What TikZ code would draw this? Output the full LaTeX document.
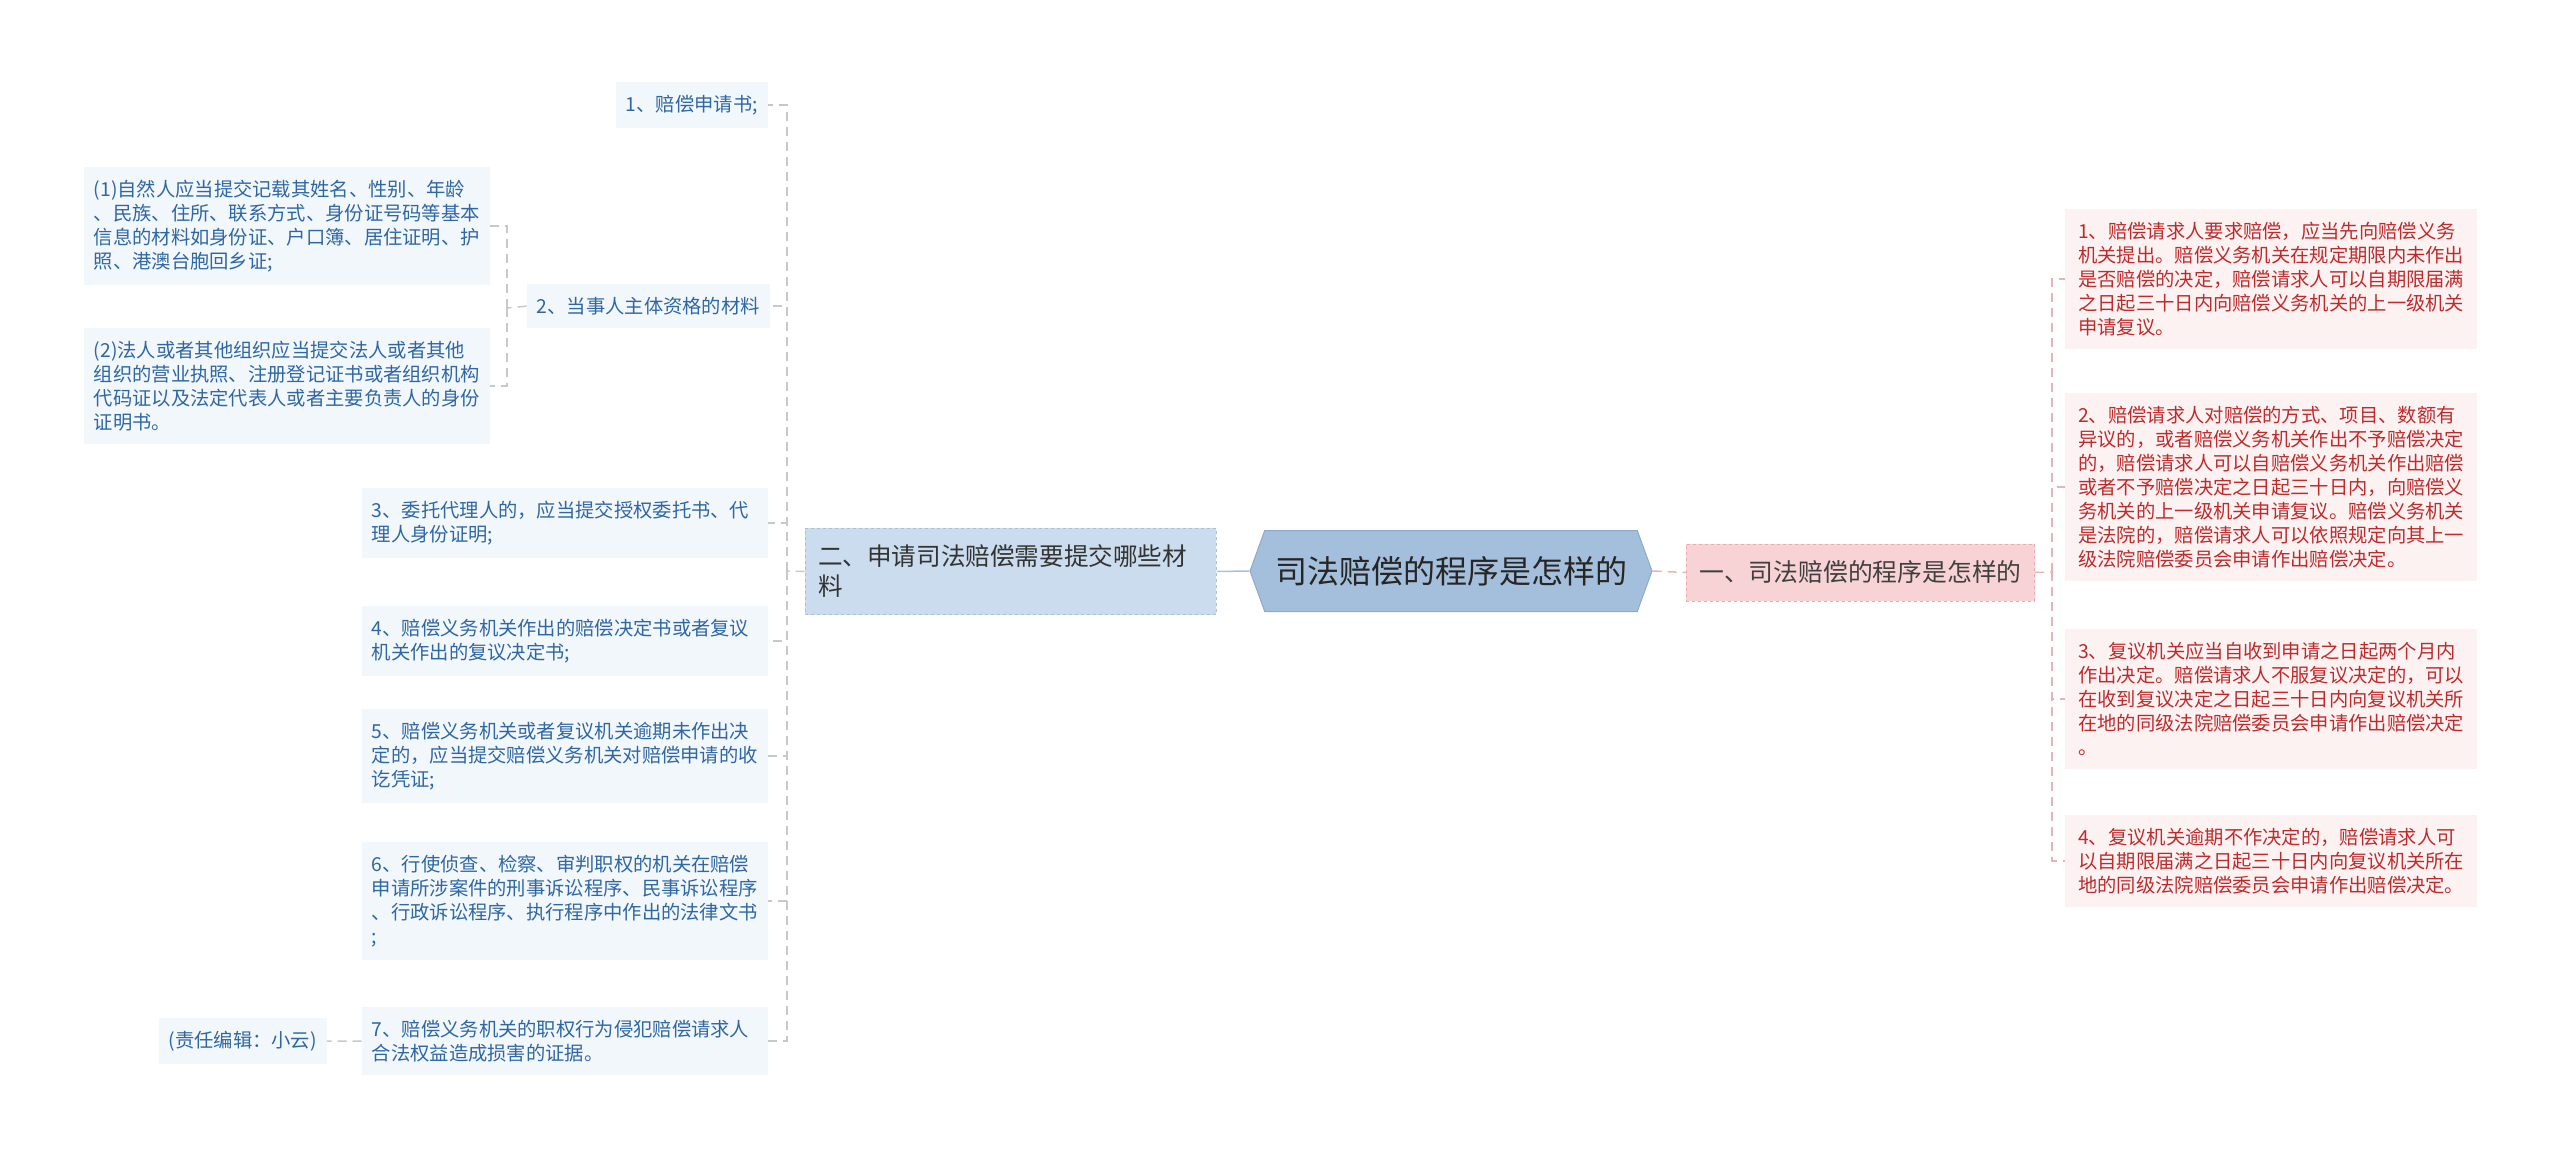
\documentclass[tikz,border=0pt]{standalone}
\usepackage{fontspec}
\setmainfont{Noto Sans CJK SC}
\usepackage{tikz}
\usetikzlibrary{shapes.symbols}
\setlength{\parindent}{0pt}

\definecolor{hexfill}{HTML}{A3BFDC}
\definecolor{hexline}{HTML}{8DAACB}
\definecolor{lbfill}{HTML}{CBDCEE}
\definecolor{lbline}{HTML}{A9C2DC}
\definecolor{rbfill}{HTML}{F7D3D5}
\definecolor{rbline}{HTML}{EEAAB0}
\definecolor{lleaffill}{HTML}{F2F7FC}
\definecolor{rleaffill}{HTML}{FDF2F2}
\definecolor{lleaftext}{HTML}{2F67A3}
\definecolor{rleaftext}{HTML}{BE2B2D}
\definecolor{greyline}{HTML}{C8C8C8}
\definecolor{pinkline}{HTML}{E6B3B6}

\tikzset{
	hexnode/.style={shape=signal, signal to=west and east, signal pointer angle=140,
		fill=hexfill, draw=hexline, line width=1pt, minimum width=402pt, minimum height=81pt,
		font=\fontsize{32pt}{38pt}\selectfont, text=black!85, inner xsep=6pt},
	lbranch/.style={fill=lbfill, draw=lbline, dashed, line width=1pt, align=left,
		text width=385pt, inner xsep=13pt, inner ysep=17pt,
		font=\fontsize{24.6pt}{30pt}\selectfont, text=black!80},
	rbranch/.style={fill=rbfill, draw=rbline, dashed, line width=1pt,
		inner xsep=13pt, inner ysep=15pt, minimum height=57pt,
		font=\fontsize{24.8pt}{30pt}\selectfont, text=black!75},
	lleaf/.style={fill=lleaffill, align=left, inner xsep=10pt, inner ysep=13pt,
		font=\fontsize{19.3pt}{24pt}\selectfont, text=lleaftext},
	rleaf/.style={fill=rleaffill, align=left, text width=386pt, inner xsep=13pt, inner ysep=13pt,
		font=\fontsize{19.3pt}{24pt}\selectfont, text=rleaftext},
	wide/.style={text width=386pt},
	greyconn/.style={draw=greyline, line width=1.5pt, dash pattern=on 9pt off 6pt},
	pinkconn/.style={draw=pinkline, line width=1.5pt, dash pattern=on 9pt off 6pt},
	blueconn/.style={draw=lbline, line width=1.5pt}
}

\begin{document}
\begin{tikzpicture}[x=1pt, y=-1pt]
	\useasboundingbox (0,0) rectangle (2560,1158);

	% Centre
	\node[hexnode] (root) at (1451,571) {司法赔偿的程序是怎样的};

	% Branches
	\node[rbranch] (rb) at (1860.5,572.5) {一、司法赔偿的程序是怎样的};
	\node[lbranch] (lb) at (1010.5,571.5) {二、申请司法赔偿需要提交哪些材\\料};

	% Junctions
	\coordinate (lj) at (787,571);
	\coordinate (cj) at (507,308);
	\coordinate (rj) at (2052,572);

	% Right leaves
	\node[rleaf, anchor=north west] (r1) at (2065,209)
		{1、赔偿请求人要求赔偿，应当先向赔偿义务\\机关提出。赔偿义务机关在规定期限内未作出\\是否赔偿的决定，赔偿请求人可以自期限届满\\之日起三十日内向赔偿义务机关的上一级机关\\申请复议。};
	\node[rleaf, anchor=north west] (r2) at (2065,393)
		{2、赔偿请求人对赔偿的方式、项目、数额有\\异议的，或者赔偿义务机关作出不予赔偿决定\\的，赔偿请求人可以自赔偿义务机关作出赔偿\\或者不予赔偿决定之日起三十日内，向赔偿义\\务机关的上一级机关申请复议。赔偿义务机关\\是法院的，赔偿请求人可以依照规定向其上一\\级法院赔偿委员会申请作出赔偿决定。};
	\node[rleaf, anchor=north west] (r3) at (2065,629)
		{3、复议机关应当自收到申请之日起两个月内\\作出决定。赔偿请求人不服复议决定的，可以\\在收到复议决定之日起三十日内向复议机关所\\在地的同级法院赔偿委员会申请作出赔偿决定\\。};
	\node[rleaf, anchor=north west] (r4) at (2065,815)
		{4、复议机关逾期不作决定的，赔偿请求人可\\以自期限届满之日起三十日内向复议机关所在\\地的同级法院赔偿委员会申请作出赔偿决定。};

	% Left leaves
	\node[lleaf, anchor=north east] (l1) at (768,82) {1、赔偿申请书;};
	\node[lleaf, anchor=north east] (l2) at (770,284) {2、当事人主体资格的材料};
	\node[lleaf, wide, anchor=north east] (l3) at (768,488)
		{3、委托代理人的，应当提交授权委托书、代\\理人身份证明;};
	\node[lleaf, wide, anchor=north east] (l4) at (768,606)
		{4、赔偿义务机关作出的赔偿决定书或者复议\\机关作出的复议决定书;};
	\node[lleaf, wide, anchor=north east] (l5) at (768,709)
		{5、赔偿义务机关或者复议机关逾期未作出决\\定的，应当提交赔偿义务机关对赔偿申请的收\\讫凭证;};
	\node[lleaf, wide, anchor=north east] (l6) at (768,842)
		{6、行使侦查、检察、审判职权的机关在赔偿\\申请所涉案件的刑事诉讼程序、民事诉讼程序\\、行政诉讼程序、执行程序中作出的法律文书\\;};
	\node[lleaf, wide, anchor=north east] (l7) at (768,1007)
		{7、赔偿义务机关的职权行为侵犯赔偿请求人\\合法权益造成损害的证据。};

	% Sub-items of 2
	\node[lleaf, wide, anchor=north east] (c1) at (490,167)
		{(1)自然人应当提交记载其姓名、性别、年龄\\、民族、住所、联系方式、身份证号码等基本\\信息的材料如身份证、户口簿、居住证明、护\\照、港澳台胞回乡证;};
	\node[lleaf, wide, anchor=north east] (c2) at (490,328)
		{(2)法人或者其他组织应当提交法人或者其他\\组织的营业执照、注册登记证书或者组织机构\\代码证以及法定代表人或者主要负责人的身份\\证明书。};

	% Editor note
	\node[lleaf, anchor=east] (note) at (327,1041) {(责任编辑：小云)};

	% Connectors
	\draw[blueconn] (root.west) -- (lb.east);
	\draw[pinkconn] (root.east) -- (rb.west);
	\draw[pinkconn] (rb.east) -- (rj);
	\foreach \n in {r1,r2,r3,r4}
		\draw[pinkconn] (rj) |- (\n.west);
	\draw[greyconn] (lb.west) -- (lj);
	\foreach \n in {l1,l2,l3,l4,l5,l6,l7}
		\draw[greyconn] (lj) |- (\n.east);
	\draw[greyconn] (l2.west) -- (cj);
	\foreach \n in {c1,c2}
		\draw[greyconn] (cj) |- (\n.east);
	\draw[greyconn] (l7.west) -- (note.east);
\end{tikzpicture}
\end{document}
